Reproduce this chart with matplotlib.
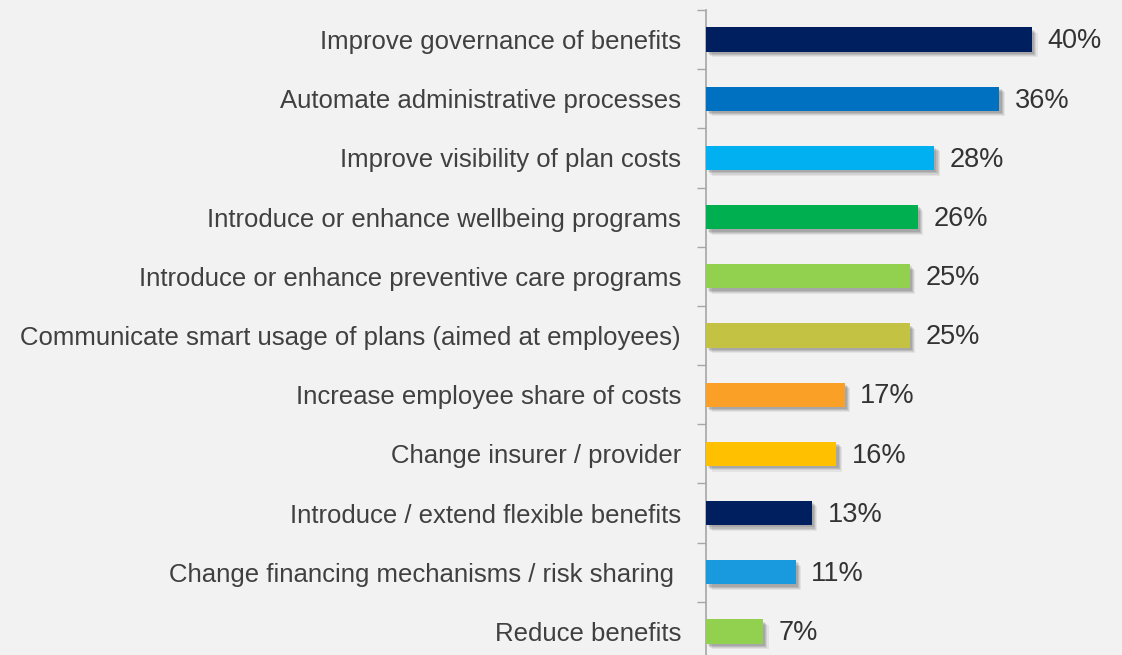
import numpy as np
import matplotlib.pyplot as plt
import matplotlib.patheffects as pe

# Planned actions to manage benefit costs, share of respondents (%)
actions = [
    "Improve governance of benefits",
    "Automate administrative processes",
    "Improve visibility of plan costs",
    "Introduce or enhance wellbeing programs",
    "Introduce or enhance preventive care programs",
    "Communicate smart usage of plans (aimed at employees)",
    "Increase employee share of costs",
    "Change insurer / provider",
    "Introduce / extend flexible benefits",
    "Change financing mechanisms / risk sharing ",
    "Reduce benefits",
]
shares = [40, 36, 28, 26, 25, 25, 17, 16, 13, 11, 7]
bar_colors = ["#001f5f", "#0070c0", "#00b0f0", "#00b050", "#92d050", "#c3c243",
              "#faa026", "#ffc000", "#001f5f", "#1a9ade", "#92d050"]

bg = "#f2f2f2"
fig = plt.figure(figsize=(11.22, 6.55), dpi=100, facecolor=bg)
ax = fig.add_axes([0.6292, -0.0092, 0.3632, 0.9939])
ax.set_facecolor(bg)

y = np.arange(len(actions))
# soft drop shadow: a few stacked offset copies
shadow = [pe.SimplePatchShadow(offset=(d, -d), shadow_rgbFace="#000000", alpha=a)
          for d, a in [(4.0, 0.06), (3.2, 0.08), (2.4, 0.10), (1.6, 0.10)]]
shadow.append(pe.Normal())
bars = ax.barh(y, shares, height=0.41, color=bar_colors, zorder=3)
for b in bars:
    b.set_path_effects(shadow)

for yi, v in zip(y, shares):
    ax.text(v + 1.9, yi + 0.03, f"{v}%", va="center", ha="left", fontsize=19.5,
            color="#333333", family="Liberation Sans")

ax.set_xlim(0, 50)
ax.set_ylim(len(actions) - 0.5, -0.5)

ax.set_yticks(y)
ax.set_yticklabels(actions, fontsize=18.5, color="#404040", family="Liberation Sans")
ax.tick_params(axis="y", which="major", length=0, pad=18)
ax.set_yticks(np.arange(-0.5, len(actions), 1), minor=True)
ax.tick_params(axis="y", which="minor", length=6.5, width=1, color="#a6a6a6")
ax.set_xticks([])

for s in ["top", "right", "bottom"]:
    ax.spines[s].set_visible(False)
ax.spines["left"].set_color("#a6a6a6")
ax.spines["left"].set_linewidth(1.2)

fig.savefig("out.png", dpi=100, facecolor=bg)
